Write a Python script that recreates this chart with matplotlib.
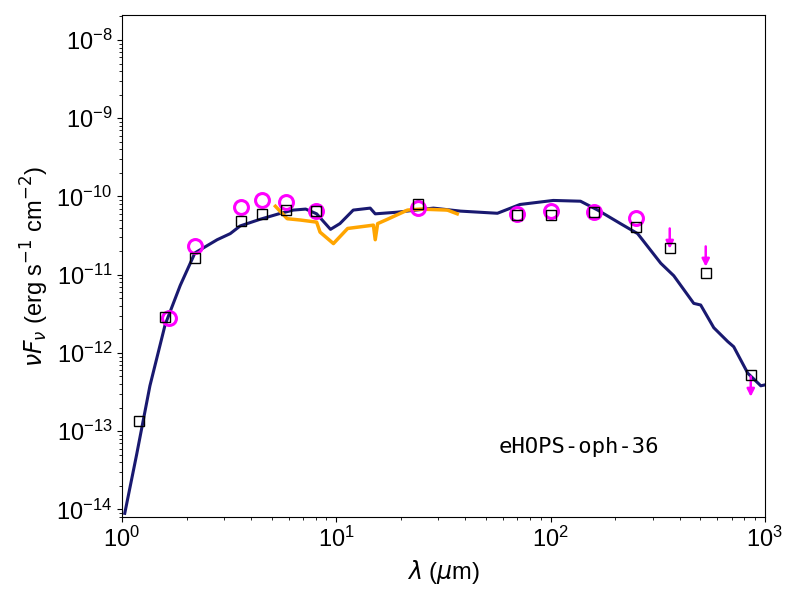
import matplotlib
matplotlib.use('Agg')
import matplotlib.pyplot as plt

plt.rcParams['font.family'] = ['Liberation Sans', 'DejaVu Sans']
plt.rcParams['mathtext.fontset'] = 'dejavusans'

# model SED
model_wav = [1.03, 1.17, 1.35, 1.59, 1.87, 2.19, 2.78, 3.2, 3.56, 4.4, 5.5, 6.3, 7.2, 8.1,
             9.4, 10.4, 12, 14.4, 15.2, 19.3, 28.4, 38, 56.5, 72, 103, 138, 166, 212, 255,
             327, 376, 466, 502, 578, 671, 716, 833, 958, 1000]
model_flux = [8.9e-15, 5.0e-14, 3.8e-13, 2.3e-12, 7.3e-12, 1.9e-11, 2.8e-11, 3.35e-11,
              4.2e-11, 5.1e-11, 6.1e-11, 6.7e-11, 6.9e-11, 6.0e-11, 3.8e-11, 4.5e-11,
              6.7e-11, 7.1e-11, 6.0e-11, 6.3e-11, 7.1e-11, 6.5e-11, 6.1e-11, 7.9e-11,
              8.9e-11, 8.7e-11, 6.7e-11, 4.5e-11, 3.35e-11, 1.4e-11, 9.7e-12, 4.3e-12,
              4.1e-12, 2.1e-12, 1.4e-12, 1.2e-12, 5.5e-13, 3.8e-13, 3.9e-13]

# IRS spectrum
irs_wav = [5.2, 5.9, 6.8, 8.1, 8.4, 9.7, 11.3, 14.9, 15.2, 15.6, 17.3, 21.5, 24.7, 33, 36.7]
irs_flux = [7.5e-11, 5.2e-11, 5.0e-11, 4.7e-11, 3.5e-11, 2.5e-11, 3.9e-11, 4.3e-11,
            2.8e-11, 4.5e-11, 5.1e-11, 6.7e-11, 6.9e-11, 6.7e-11, 6.0e-11]

# model photometry (squares)
sq_wav = [1.2, 1.59, 2.19, 3.6, 4.5, 5.8, 8.0, 24, 70, 100, 160, 250, 360, 530, 860]
sq_flux = [1.35e-13, 2.9e-12, 1.65e-11, 4.8e-11, 6.0e-11, 6.8e-11, 6.5e-11, 8.0e-11,
           5.8e-11, 5.8e-11, 6.3e-11, 4.1e-11, 2.2e-11, 1.05e-11, 5.2e-13]

# observed photometry (circles)
obs_wav = [1.65, 2.2, 3.6, 4.5, 5.8, 8.0, 24, 70, 100, 160, 250]
obs_flux = [2.8e-12, 2.3e-11, 7.4e-11, 9.0e-11, 8.4e-11, 6.6e-11, 7.1e-11, 5.9e-11,
            6.6e-11, 6.4e-11, 5.3e-11]

# upper limits
ul_wav = [360, 530, 860]
ul_flux = [3.9e-11, 2.3e-11, 5.0e-13]

fig = plt.figure(figsize=(8, 6), dpi=100)
ax = fig.add_axes([0.1525, 0.138, 0.8035, 0.837])

ax.plot(model_wav, model_flux, color='#191970', lw=2.2, zorder=2)
ax.plot(irs_wav, irs_flux, color='orange', lw=2.5, zorder=3)
ax.plot(obs_wav, obs_flux, 'o', mfc='none', mec='magenta', mew=2.2, ms=10, zorder=4)
ax.plot(sq_wav, sq_flux, 's', mfc='none', mec='black', mew=1.0, ms=7, zorder=5)
for w, f in zip(ul_wav, ul_flux):
    ax.annotate('', xy=(w, f * 0.55), xytext=(w, f),
                arrowprops=dict(arrowstyle='-|>', color='magenta', lw=1.8, mutation_scale=11,
                                shrinkA=0, shrinkB=0),
                zorder=4)

ax.set_xscale('log')
ax.set_yscale('log')
ax.set_xlim(1, 1000)
ax.set_ylim(10**-14.1, 10**-7.68)
ax.tick_params(labelsize=17)
ax.set_xlabel(r'$\lambda$ ($\mu$m)', fontsize=17)
ax.set_ylabel(r'$\nu F_\nu$ (erg s$^{-1}$ cm$^{-2}$)', fontsize=17)
ax.text(0.71, 0.14, 'eHOPS-oph-36', transform=ax.transAxes, ha='center', va='center',
        fontsize=16, family='DejaVu Sans Mono')

fig.savefig('out.png', dpi=100)
